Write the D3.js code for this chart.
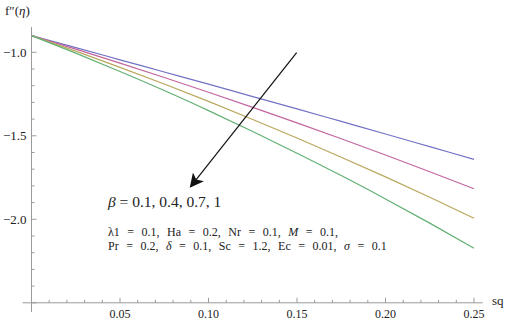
<!DOCTYPE html>
<html>
<head>
<meta charset="utf-8">
<script src="https://cdn.jsdelivr.net/npm/d3@7"></script>
<style>
  body { margin: 0; background: #fff; }
  svg text { font-family: "Liberation Serif", "Times New Roman", Times, serif; fill: #222; }
</style>
</head>
<body>
<div id="chart"></div>
<script>
// NOTE data
var sq = [0, 0.025, 0.05, 0.075, 0.10, 0.125, 0.15, 0.175, 0.20, 0.225, 0.25];
var beta01 = [-0.9, -0.972, -1.045, -1.118, -1.191, -1.265, -1.339, -1.414, -1.489, -1.565, -1.641];
var beta04 = [-0.9, -0.981, -1.065, -1.151, -1.239, -1.330, -1.423, -1.518, -1.615, -1.715, -1.817];
var beta07 = [-0.9, -0.993, -1.090, -1.190, -1.294, -1.402, -1.513, -1.628, -1.746, -1.868, -1.994];
var beta1 = [-0.9, -1.005, -1.115, -1.229, -1.349, -1.474, -1.604, -1.738, -1.878, -2.023, -2.173];
var seriesColors = ['#7272c6', '#c3659f', '#b9a75c', '#62b073'];

var xTicks = [0.05, 0.10, 0.15, 0.20, 0.25];
var yTicks = [-1.0, -1.5, -2.0];

// arrow in data units: tail, head
var arrowFrom = [0.1498, -1.002];
var arrowTo = [0.0899, -1.805];

var width = 510, height = 323;

var svg = d3.select('#chart').append('svg')
	.attr('width', width)
	.attr('height', height)
	.attr('font-family', 'Liberation Serif, Times New Roman, serif');

var x = d3.scaleLinear().domain([0, 0.25]).range([31.5, 474]);
var y = d3.scaleLinear().domain([-1.0, -2.0]).range([52.3, 219.3]);

var axisColor = '#9a9a9a';

// y axis
svg.append('line')
	.attr('x1', x(0)).attr('x2', x(0))
	.attr('y1', y(-0.848)).attr('y2', y(-2.555))
	.attr('stroke', axisColor).attr('stroke-width', 1);

// x axis
svg.append('line')
	.attr('x1', x(-0.005)).attr('x2', x(0.255))
	.attr('y1', y(-2.5)).attr('y2', y(-2.5))
	.attr('stroke', axisColor).attr('stroke-width', 1);

// y ticks
var yMinor = d3.range(-9, -26, -1).map(function (d) { return d / 10; });
svg.selectAll('.ytick')
	.data(yMinor)
	.enter()
	.append('line')
	.attr('x1', x(0))
	.attr('x2', function (d) {
		return x(0) + (Math.abs(d * 10 % 5) < 0.01 ? 5 : 3);
	})
	.attr('y1', function (d) { return y(d); })
	.attr('y2', function (d) { return y(d); })
	.attr('stroke', axisColor);

svg.selectAll('.ylab')
	.data(yTicks)
	.enter()
	.append('text')
	.attr('x', x(0) - 5)
	.attr('y', function (d) { return y(d) + 4.5; })
	.attr('text-anchor', 'end')
	.style('font-size', '13px')
	.text(function (d) { return '\u2212' + Math.abs(d).toFixed(1); });

// x ticks
var xMinor = d3.range(1, 26).map(function (d) { return d / 100; });
svg.selectAll('.xtick')
	.data(xMinor)
	.enter()
	.append('line')
	.attr('x1', function (d) { return x(d); })
	.attr('x2', function (d) { return x(d); })
	.attr('y1', y(-2.5))
	.attr('y2', function (d, i) {
		return y(-2.5) - ((i + 1) % 5 === 0 ? 5 : 3);
	})
	.attr('stroke', axisColor);

svg.selectAll('.xlab')
	.data(xTicks)
	.enter()
	.append('text')
	.attr('x', function (d) { return x(d); })
	.attr('y', 318)
	.attr('text-anchor', 'middle')
	.style('font-size', '12px')
	.text(function (d) { return d.toFixed(2); });

// axis labels
svg.append('text')
	.attr('x', 5).attr('y', 15)
	.style('font-size', '13px')
	.html('f\u2033(<tspan font-style="italic">\u03B7</tspan>)');

svg.append('text')
	.attr('x', 492).attr('y', 305)
	.style('font-size', '13px')
	.text('sq');

// curves
var series = [beta01, beta04, beta07, beta1];
var line = d3.line()
	.x(function (d, i) { return x(sq[i]); })
	.y(function (d) { return y(d); })
	.curve(d3.curveMonotoneX);

svg.selectAll('.curve')
	.data(series)
	.enter()
	.append('path')
	.attr('d', line)
	.attr('fill', 'none')
	.attr('stroke', function (d, i) { return seriesColors[i]; })
	.attr('stroke-width', 1.2);

// arrow
svg.append('defs').append('marker')
	.attr('id', 'head')
	.attr('viewBox', '0 0 10 10')
	.attr('refX', 9).attr('refY', 5)
	.attr('markerWidth', 14).attr('markerHeight', 14)
	.attr('markerUnits', 'userSpaceOnUse')
	.attr('orient', 'auto')
	.append('path')
	.attr('d', 'M0,0 L10,5 L0,10 L2.5,5 Z')
	.attr('fill', '#111');

svg.append('line')
	.attr('x1', x(arrowFrom[0])).attr('y1', y(arrowFrom[1]))
	.attr('x2', x(arrowTo[0])).attr('y2', y(arrowTo[1]))
	.attr('stroke', '#111').attr('stroke-width', 1.2)
	.attr('marker-end', 'url(#head)');

// annotations
svg.append('text')
	.attr('x', 108).attr('y', 207)
	.style('font-size', '15.5px')
	.html('<tspan font-style="italic">\u03B2</tspan> = 0.1, 0.4, 0.7, 1');

svg.append('text')
	.attr('x', 108).attr('y', 236)
	.style('font-size', '12px')
	.style('word-spacing', '4.5px')
	.html('\u03BB1 = 0.1, Ha = 0.2, Nr = 0.1, <tspan font-style="italic">M</tspan> = 0.1,');

svg.append('text')
	.attr('x', 108).attr('y', 250)
	.style('font-size', '12px')
	.style('word-spacing', '4.5px')
	.html('Pr = 0.2, <tspan font-style="italic">\u03B4</tspan> = 0.1, Sc = 1.2, Ec = 0.01, <tspan font-style="italic">\u03C3</tspan> = 0.1');
</script>
</body>
</html>
